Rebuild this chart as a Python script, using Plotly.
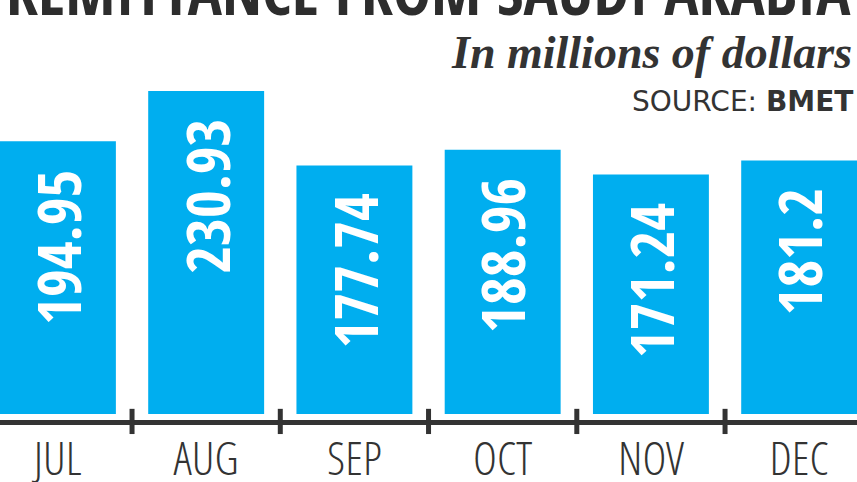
import plotly.graph_objects as go

months = ["JUL", "AUG", "SEP", "OCT", "NOV", "DEC"]
remittance = [194.95, 230.93, 177.74, 188.96, 171.24, 181.2]
value_labels = ["194.95", "230.93", "177.74", "188.96", "171.24", "181.2"]

BAR_BLUE = "#00aeef"
INK = "#333333"
COND = "Open Sans Condensed, Roboto Condensed, sans-serif"
COND_LIGHT = "Open Sans Condensed Light, Roboto Condensed, sans-serif"

fig = go.Figure(go.Bar(x=months, y=remittance, width=0.782,
                       marker=dict(color=BAR_BLUE, line_width=0), hoverinfo="skip"))

# vertical value labels sitting near the top of each bar
for m, v, lab in zip(months, remittance, value_labels):
    fig.add_annotation(x=m, y=v, text=lab, textangle=-90, showarrow=False,
                       yanchor="top", yshift=-26,
                       font=dict(family=COND, size=60, color="white", weight="bold"))

# ticks on category boundaries, crossing the axis line
for i in range(len(months) - 1):
    fig.add_shape(type="line", xref="x", yref="paper", x0=i + 0.5, x1=i + 0.5,
                  y0=-0.039, y1=0.031, line=dict(color=INK, width=5))

fig.add_annotation(x=0.5, y=1.067, xref="paper", yref="paper", showarrow=False,
                   yanchor="bottom", text="REMITTANCE FROM SAUDI ARABIA",
                   font=dict(family=COND, size=64, color="#2d2d2d", weight="bold"))
fig.add_annotation(x=1, y=0.945, xref="paper", yref="paper", showarrow=False,
                   xanchor="right", yanchor="bottom", xshift=-3,
                   text="<i><b>In millions of dollars</b></i>",
                   font=dict(family="Liberation Serif, Times New Roman, serif", size=46, color=INK))
fig.add_annotation(x=1, y=0.834, xref="paper", yref="paper", showarrow=False,
                   xanchor="right", yanchor="bottom", xshift=-2,
                   text="SOURCE: <b>BMET</b>",
                   font=dict(family="DejaVu Sans, Verdana, sans-serif", size=28, color=INK))

fig.update_layout(width=857, height=482, margin=dict(l=0, r=0, t=60, b=62),
                  plot_bgcolor="white", paper_bgcolor="white", showlegend=False)
fig.update_xaxes(range=[-0.3906, 5.390], showline=True, linecolor=INK, linewidth=5,
                 ticks="", showgrid=False, zeroline=False, ticklabelstandoff=-5,
                 automargin=False,
                 tickfont=dict(family=COND_LIGHT, size=46, color=INK, weight=300))
fig.update_yaxes(range=[-4.29, 253.1], visible=False, automargin=False)

fig.write_html("out.html", config={"displayModeBar": False},
               post_script="document.body.style.margin = '0';")
